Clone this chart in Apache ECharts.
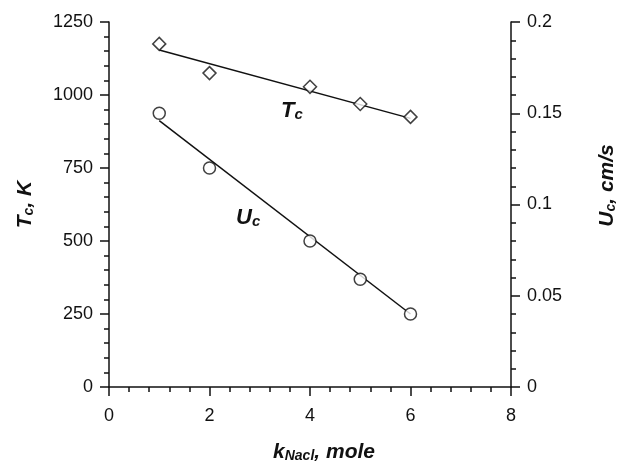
<!DOCTYPE html>
<html lang="en">
<head>
    <meta charset="UTF-8">
    <title>Tc and Uc vs kNaCl</title>
    <script src="https://cdn.jsdelivr.net/npm/echarts@6/dist/echarts.min.js"></script>
    <style>
        html, body { margin: 0; padding: 0; background: #fff; }
        #main { width: 619px; height: 462px; }
    </style>
</head>
<body>
    <div id="main"></div>
<script type="text/javascript">
    // data
    var kNacl = [1, 2, 4, 5, 6];
    var tcPoints = [1175, 1075, 1028, 969, 925];      // K, left axis
    var ucPoints = [0.150, 0.120, 0.080, 0.059, 0.040]; // cm/s, right axis
    var tcFitX = [1, 6];
    var tcFitY = [1154, 920];
    var ucFitX = [1, 6];
    var ucFitY = [0.146, 0.040];

    function pairs(xs, ys) {
        return xs.map(function (x, i) { return [x, ys[i]]; });
    }

    var font = 'Liberation Sans, Arial, sans-serif';
    var black = '#111';

    // bold italic title with a subscript part
    var titleRich = {
        b: { fontSize: 21, fontWeight: 'bold', fontStyle: 'italic', color: black, fontFamily: font },
        s: { fontSize: 14, fontWeight: 'bold', fontStyle: 'italic', color: black, fontFamily: font, verticalAlign: 'bottom', padding: [8, 0, 0, 0] }
    };

    var myChart = echarts.init(document.getElementById('main'));

    var option = {
        animation: false,
        backgroundColor: '#fff',
        textStyle: { fontFamily: font },
        grid: { left: 109, right: 108, top: 22, bottom: 75, containLabel: false, outerBoundsMode: 'none' },
        xAxis: {
            type: 'value',
            min: 0, max: 8, interval: 2,
            name: '{b|k}{s|Nacl}{b|, mole}',
            nameLocation: 'middle',
            nameGap: 54,
            nameTextStyle: { rich: titleRich, padding: [0, 0, 0, 28] },
            axisLine: { lineStyle: { color: black, width: 1.5 } },
            axisTick: { length: 9, lineStyle: { color: black, width: 1.5 } },
            minorTick: { show: true, splitNumber: 5, length: 5, lineStyle: { color: black, width: 1.5 } },
            axisLabel: { margin: 20, fontSize: 18, color: black, fontFamily: font },
            splitLine: { show: false }
        },
        yAxis: [
            {
                type: 'value',
                position: 'left',
                min: 0, max: 1250, interval: 250,
                name: '{b|T}{s|c}{b|, K}',
                nameLocation: 'middle',
                nameGap: 73,
                nameTextStyle: { rich: titleRich },
                axisLine: { show: true, onZero: false, lineStyle: { color: black, width: 1.5 } },
                axisTick: { show: true, length: 9, lineStyle: { color: black, width: 1.5 } },
                minorTick: { show: true, splitNumber: 5, length: 5, lineStyle: { color: black, width: 1.5 } },
                axisLabel: {
                    margin: 16, fontSize: 18, color: black, fontFamily: font,
                    formatter: function (v) { return String(v); }
                },
                splitLine: { show: false }
            },
            {
                type: 'value',
                position: 'right',
                min: 0, max: 0.2, interval: 0.05,
                name: '{b|U}{s|c}{b|, cm/s}',
                nameLocation: 'middle',
                nameGap: 85,
                nameTextStyle: { rich: titleRich, padding: [0, 0, 0, 38] },
                axisLine: { show: true, onZero: false, lineStyle: { color: black, width: 1.5 } },
                axisTick: { show: true, length: 9, lineStyle: { color: black, width: 1.5 } },
                minorTick: { show: true, splitNumber: 5, length: 5, lineStyle: { color: black, width: 1.5 } },
                axisLabel: { margin: 16, fontSize: 18, color: black, fontFamily: font },
                splitLine: { show: false }
            }
        ],
        series: [
            {
                name: 'Tc fit',
                type: 'line',
                yAxisIndex: 0,
                data: pairs(tcFitX, tcFitY),
                showSymbol: false,
                lineStyle: { color: black, width: 1.5 },
                z: 2
            },
            {
                name: 'Uc fit',
                type: 'line',
                yAxisIndex: 1,
                data: pairs(ucFitX, ucFitY),
                showSymbol: false,
                lineStyle: { color: black, width: 1.5 },
                z: 2
            },
            {
                name: 'Tc',
                type: 'scatter',
                yAxisIndex: 0,
                data: pairs(kNacl, tcPoints),
                symbol: 'diamond',
                symbolSize: 13,
                itemStyle: { color: '#fff', borderColor: black, borderWidth: 1.5 },
                z: 3
            },
            {
                name: 'Uc',
                type: 'scatter',
                yAxisIndex: 1,
                data: pairs(kNacl, ucPoints),
                symbol: 'circle',
                symbolSize: 12,
                itemStyle: { color: '#fff', borderColor: black, borderWidth: 1.5 },
                z: 3
            }
        ],
        graphic: [
            {
                type: 'text', left: 281, top: 100,
                style: {
                    text: '{b|T}{s|c}',
                    rich: {
                        b: { fontSize: 22, fontWeight: 'bold', fontStyle: 'italic', fill: black, fontFamily: font },
                        s: { fontSize: 15, fontWeight: 'bold', fontStyle: 'italic', fill: black, fontFamily: font, verticalAlign: 'bottom' }
                    }
                }
            },
            {
                type: 'text', left: 236, top: 207,
                style: {
                    text: '{b|U}{s|c}',
                    rich: {
                        b: { fontSize: 22, fontWeight: 'bold', fontStyle: 'italic', fill: black, fontFamily: font },
                        s: { fontSize: 15, fontWeight: 'bold', fontStyle: 'italic', fill: black, fontFamily: font, verticalAlign: 'bottom' }
                    }
                }
            }
        ]
    };

    myChart.setOption(option);
</script>
</body>
</html>
